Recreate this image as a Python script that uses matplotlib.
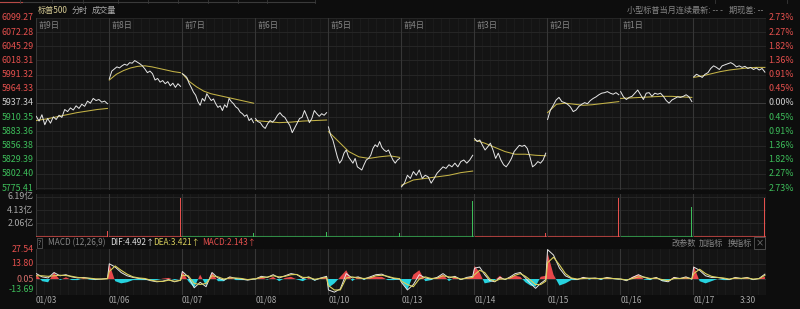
import matplotlib
matplotlib.use("Agg")
import matplotlib.pyplot as plt
from matplotlib.lines import Line2D
import numpy as np

plt.rcParams["font.family"] = ["Noto Sans CJK SC", "DejaVu Sans"]

W, H = 800, 309

# ---- data ----
days = ["01/03", "01/06", "01/07", "01/08", "01/10",
        "01/13", "01/14", "01/15", "01/16", "01/17"]
day_tags = ["前9日", "前8日", "前7日", "前6日", "前5日",
            "前4日", "前3日", "前2日", "前1日", ""]

price = [
    [5912, 5903, 5915, 5896, 5908, 5899, 5911, 5906, 5914, 5910, 5925, 5921, 5928,
     5924, 5932, 5927, 5935, 5931, 5941, 5937, 5946, 5942, 5944, 5939, 5941, 5936],
    [5983, 5998, 6002, 6006, 6004, 6008, 6011, 6009, 6014, 6013, 6018, 6015, 6012,
     6008, 6002, 5995, 5998, 5993, 5981, 5984, 5977, 5980, 5974, 5978, 5970, 5975,
     5967, 5974, 5969],
    [5993, 5990, 5986, 5975, 5967, 5958, 5952, 5940, 5933, 5946, 5941, 5955, 5948,
     5942, 5945, 5936, 5929, 5932, 5923, 5934, 5929, 5946, 5940, 5936, 5930, 5927,
     5920, 5917, 5912, 5915, 5904, 5908, 5900],
    [5908, 5902, 5900, 5893, 5889, 5898, 5904, 5901, 5906, 5914, 5919, 5913, 5910,
     5902, 5895, 5881, 5890, 5899, 5908, 5910, 5923, 5912, 5900, 5908, 5923, 5917,
     5912, 5917, 5914, 5919],
    [5892, 5876, 5867, 5851, 5835, 5823, 5829, 5842, 5848, 5835, 5829, 5823, 5832,
     5816, 5813, 5810, 5820, 5829, 5832, 5838, 5851, 5858, 5854, 5864, 5853, 5848,
     5845, 5848, 5838, 5829, 5823, 5829, 5832],
    [5778, 5785, 5800, 5794, 5807, 5800, 5810, 5794, 5800, 5797, 5785, 5794, 5804,
     5810, 5816, 5813, 5820, 5816, 5823, 5816, 5826, 5829, 5823, 5829, 5838],
    [5870, 5864, 5867, 5857, 5848, 5854, 5861, 5848, 5832, 5842, 5829, 5820, 5816,
     5823, 5832, 5845, 5851, 5857, 5855, 5857, 5851, 5835, 5816, 5820, 5826, 5823,
     5829, 5842],
    [5906, 5924, 5933, 5943, 5948, 5940, 5938, 5935, 5930, 5921, 5924, 5931, 5935,
     5938, 5936, 5942, 5946, 5949, 5953, 5956, 5957, 5959, 5956, 5954, 5957, 5953],
    [5959, 5949, 5944, 5948, 5950, 5956, 5962, 5953, 5944, 5956, 5957, 5950, 5956,
     5954, 5956, 5950, 5942, 5937, 5943, 5946, 5949, 5948, 5950, 5953, 5949, 5940],
    [5987, 5992, 5989, 5986, 5992, 5995, 6003, 6008, 6005, 6001, 6008, 6010, 6012,
     6014, 6011, 6006, 6008, 6005, 6007, 6003, 6005, 6001, 6004, 6000, 6003, 5996],
]

avg_price = [
    [5904, 5907, 5911, 5915, 5919, 5922, 5925, 5927],
    [5981, 5992, 5999, 6004, 6007, 6008, 6006, 6003, 6000, 5997, 5995],
    [5993, 5978, 5968, 5960, 5955, 5952, 5949, 5946, 5943, 5940, 5937],
    [5904, 5902, 5900, 5901, 5903, 5904, 5905],
    [5883, 5864, 5845, 5835, 5832, 5835, 5837, 5834],
    [5781, 5791, 5794, 5797, 5800, 5805, 5808],
    [5867, 5861, 5853, 5845, 5840, 5840, 5838, 5837],
    [5919, 5935, 5937, 5935, 5933, 5934, 5936, 5938, 5940],
    [5946, 5947, 5948, 5949, 5950, 5950, 5949, 5948],
    [5986, 5989, 5993, 5997, 6000, 6002, 6004, 6005, 6005],
]

price_ticks = [6099.27, 6072.28, 6045.29, 6018.31, 5991.32, 5964.33, 5937.34,
               5910.35, 5883.36, 5856.38, 5829.39, 5802.40, 5775.41]
pct_labels = ["2.73%", "2.27%", "1.82%", "1.36%", "0.91%", "0.45%", "0.00%",
              "0.45%", "0.91%", "1.36%", "1.82%", "2.27%", "2.73%"]
prev_close = 5937.34

# volume in 亿, closing prints at the end of each session
vol_close = [0.8, 6.1, 0.6, 0.7, 0.6, 5.6, 0.5, 6.1, 4.6, 6.1]
vol_up = [True, True, False, False, False, False, True, True, False, True]
vol_base = [0.06, 0.05, 0.06, 0.05, 0.06, 0.05, 0.06, 0.05, 0.05, 0.06]
vol_ticks = [2.06, 4.13, 6.19]
vol_labels = ["2.06亿", "4.13亿", "6.19亿"]

dif = [
    [5, 2, 1, 6, 3, 4, 2, 1, 1.5, 0.5, -0.3, 0, 0.5],
    [14, 11, 6, 3, 1.5, 0.5, 0, -1.5, -2.5, -2, -0.5, -2.5, -1],
    [7, 2, -8, -3, -7, 6, 1, -1, 2, 0.5, 0, -1, 0],
    [0, 2.5, 1.5, 4, 1, 3, 5, 4, 0.5, 2, -1, 1, 2.5],
    [-10, -12, -9, 5, 1, 2, 0, 2, 4, 4.5, 2, 0.5, 0],
    [-3, -10, -5, 4, 1, 0, 1.5, 5, 1, 2.5, -0.5, 1.5, 2.5],
    [10, 11, 4, -1.5, -2.5, 1.5, -0.5, 2, 5, 6, 1, -4, -8.5, -4, -0.5],
    [27, 22, 10, 3, 0.5, -0.5, 1.5, 0.5, 1, 0, 1.5, 0.5, 0],
    [0, -1.5, 1.5, 4, 1.5, 0, 1.5, -1.5, -2.5, 1.5, 0.5, 2, 0],
    [11, 8, 3, 1.5, 1.5, 0.5, -0.5, 1.5, 0.5, 1.5, -0.5, 0.5, 4.49],
]
dea = [
    [3, 3, 2.5, 3, 3.5, 3.2, 2.5, 1.5, 1, 0.8, 0.2, 0, 0.3],
    [7, 12, 8, 4.5, 2, 1, 0.5, -1, -2, -2.2, -1, -2, -1.2],
    [3.5, 3, -4, -5, -4, 3, 2, 0, 1, 1, 0.5, -0.5, 0.2],
    [0.2, 1.5, 1.8, 3, 2, 2.5, 4, 4.2, 1.5, 1.5, -0.2, 0.6, 1.5],
    [-6, -10, -10, 1, 2, 1, 0.5, 1, 3, 3.5, 2.5, 1, 0.3],
    [-2, -5, -7, 0, 2, 0.5, 0.8, 3, 2, 1.5, 0, 0.8, 1.5],
    [4, 8, 6, 0, -2, 0, 0, 1, 3.5, 5, 2.5, -1, -5, -5, -2],
    [15, 20, 13, 5, 1, 0, 0.5, 0.8, 0.5, 0.5, 0.8, 0.5, 0.2],
    [0, -0.8, 0.5, 2, 1.8, 0.5, 0.8, -0.5, -1.5, 0.5, 0.5, 1, 0.3],
    [5, 9, 5, 2.5, 1.5, 1, 0, 0.8, 0.6, 1, 0, 0.3, 3.42],
]
macd_ticks = [27.54, 13.80, 0.05, -13.69]

# ---- styling ----
FIG_BG = "#0d0d0d"
PANEL = "#141414"
SEP = "#363636"
SUB = "#1f1f1f"
HGRID = "#262626"
RED = "#e5504d"
GREEN = "#3dbd5a"
GRAY = "#a8a8a8"
DIM = "#858585"
FS = 6.4     # axis labels
HFS = 5.9    # header / legend texts

fig = plt.figure(figsize=(W / 100, H / 100), dpi=100, facecolor=FIG_BG)
ndays = len(days)
X0, X1 = 35.5, 766.0


def px_axes(y0, y1):
    ax = fig.add_axes([X0 / W, 1 - y1 / H, (X1 - X0) / W, (y1 - y0) / H])
    ax.set_facecolor(PANEL)
    ax.set_xlim(0, ndays)
    ax.set_xticks([])
    ax.set_yticks([])
    for s in ax.spines.values():
        s.set_visible(False)
    for d in range(ndays):
        for k in range(1, 9):
            ax.axvline(d + k / 9, color=SUB, lw=0.5, zorder=0)
    for d in range(ndays + 1):
        ax.axvline(d, color=SEP, lw=0.8, zorder=0.5)
    return ax


def ftext(x, y, s, **kw):
    kw.setdefault("fontsize", HFS)
    kw.setdefault("va", "center")
    return fig.text(x / W, 1 - y / H, s, **kw)


def day_x(d, n):
    return d + np.linspace(0.01, 0.985, n)


# ---- price panel ----
ax = px_axes(17.8, 190)
ppu = (188.2 - 17.8) / (price_ticks[0] - price_ticks[-1])
ax.set_ylim(price_ticks[-1] - (190 - 188.2) / ppu, price_ticks[0])
for i, t in enumerate(price_ticks):
    ax.axhline(t, color="#3c3c3c" if t == prev_close else HGRID, lw=0.7, zorder=0.4)
    col = RED if t > prev_close else (GREEN if t < prev_close else "#cfcfcf")
    ax.text(-2.0 / (X1 - X0), t, f"{t:.2f}", transform=ax.get_yaxis_transform(),
            ha="right", va="center", fontsize=FS, color=col)
    ax.text(1 + 2.5 / (X1 - X0), t, pct_labels[i], transform=ax.get_yaxis_transform(),
            ha="left", va="center", fontsize=FS, color=col)

for d in range(ndays):
    ax.plot(day_x(d, len(avg_price[d])), avg_price[d], color="#c4b347", lw=0.75, zorder=3)
    ax.plot(day_x(d, len(price[d])), price[d], color="#e8e8e8", lw=0.7, zorder=4)
    if day_tags[d]:
        ax.text(d + 3 / 73.05, 0.955, day_tags[d], transform=ax.get_xaxis_transform(),
                ha="left", va="center", fontsize=HFS, color=DIM)

# ---- volume panel ----
axv = px_axes(194, 236.5)
vppu = (236.5 - 197) / vol_ticks[-1]
axv.set_ylim(0, vol_ticks[-1] + (197 - 194) / vppu)
for t, lab in zip(vol_ticks, vol_labels):
    axv.axhline(t, color=HGRID, lw=0.7, zorder=0.4)
    axv.text(-2.0 / (X1 - X0), t, lab, transform=axv.get_yaxis_transform(),
             ha="right", va="center", fontsize=FS, color=GRAY)
for d in range(ndays):
    c = RED if vol_up[d] else GREEN
    axv.plot([d + 0.01, d + 0.985], [vol_base[d], vol_base[d]], color=c, lw=0.8, alpha=0.7)
    axv.bar(d + 0.985, vol_close[d], width=0.016, color=c, zorder=3)

# ---- MACD panel ----
axm = px_axes(249, 295)
mppu = (294 - 249) / (macd_ticks[0] - macd_ticks[-1])
axm.set_ylim(macd_ticks[-1] - (295 - 294) / mppu, macd_ticks[0])
for t in macd_ticks[1:3]:
    axm.axhline(t, color="#333333" if t == 0.05 else HGRID, lw=0.7, zorder=0.4)
mcol = [RED, RED, "#d8706c", GREEN]
for t, c in zip(macd_ticks, mcol):
    axm.text(-2.0 / (X1 - X0), t, f"{t:.2f}", transform=axm.get_yaxis_transform(),
             ha="right", va="bottom" if t == macd_ticks[-1] else "center",
             fontsize=FS, color=c)

mx = np.concatenate([day_x(d, len(dif[d])) for d in range(ndays)])
mdif = np.concatenate([np.array(v, dtype=float) for v in dif])
mdea = np.concatenate([np.array(v, dtype=float) for v in dea])
hist = 2 * (mdif - mdea)
axm.fill_between(mx, 0.05, 0.05 + hist, where=hist > 0, interpolate=True,
                 color="#e8474a", lw=0, zorder=2)
axm.fill_between(mx, 0.05, 0.05 + hist, where=hist < 0, interpolate=True,
                 color="#27d3df", lw=0, zorder=2)
axm.plot(mx, mdif, color="#e6e6e6", lw=0.7, zorder=3)
axm.plot(mx, mdea, color="#d9cf5c", lw=0.8, zorder=4)

# MACD header strip
ftext(38, 243, "?", color=DIM, fontsize=5.0, ha="left",
      bbox=dict(boxstyle="square,pad=0.15", fc=FIG_BG, ec="#555555", lw=0.6))
ftext(48, 243, "MACD (12,26,9)", color=DIM, ha="left")
ftext(110, 243, "DIF:4.492↑", color="#e0e0e0", ha="left")
ftext(153, 243, "DEA:3.421↑", color="#d9cf5c", ha="left")
ftext(202, 243, "MACD:2.143↑", color=RED, ha="left")
ftext(671, 243, "改参数", color=DIM, ha="left")
ftext(699, 243, "加指标", color=DIM, ha="left")
ftext(728, 243, "换指标", color=DIM, ha="left")
ftext(755.5, 243, "×", color=DIM, ha="left",
      bbox=dict(boxstyle="square,pad=0.15", fc=FIG_BG, ec="#555555", lw=0.6))

# ---- header / footer ----
ftext(38, 10.5, "标普500", color="#d6cb94", ha="left")
ftext(72, 10.5, "分时", color=GRAY, ha="left")
ftext(92, 10.5, "成交量", color=GRAY, ha="left")
ftext(627, 10.5, "小型标普当月连续最新: -- -", color=DIM, ha="left")
ftext(729, 10.5, "期现差: --", color=DIM, ha="left")

for d, lab in enumerate(days):
    ftext(X0 + d * (X1 - X0) / ndays + 0.5, 300.5, lab, color=GRAY, ha="left")
ftext(740, 300.5, "3:30", color=GRAY, ha="left")

# leftover tab bar edge at the very top
fig.add_artist(Line2D([0, 315 / W], [1 - 1.5 / H] * 2, color="#3a3a3a", lw=0.8))
fig.add_artist(Line2D([0, 22 / W], [1 - 1.5 / H] * 2, color="#b84a46", lw=0.8))
for tx in [20, 52, 83, 118, 148, 178, 208, 238, 267, 315, 715, 787]:
    fig.add_artist(Line2D([tx / W] * 2, [1, 1 - 2.5 / H], color="#3a3a3a", lw=0.6))

fig.savefig("out.png", dpi=100, facecolor=FIG_BG)
